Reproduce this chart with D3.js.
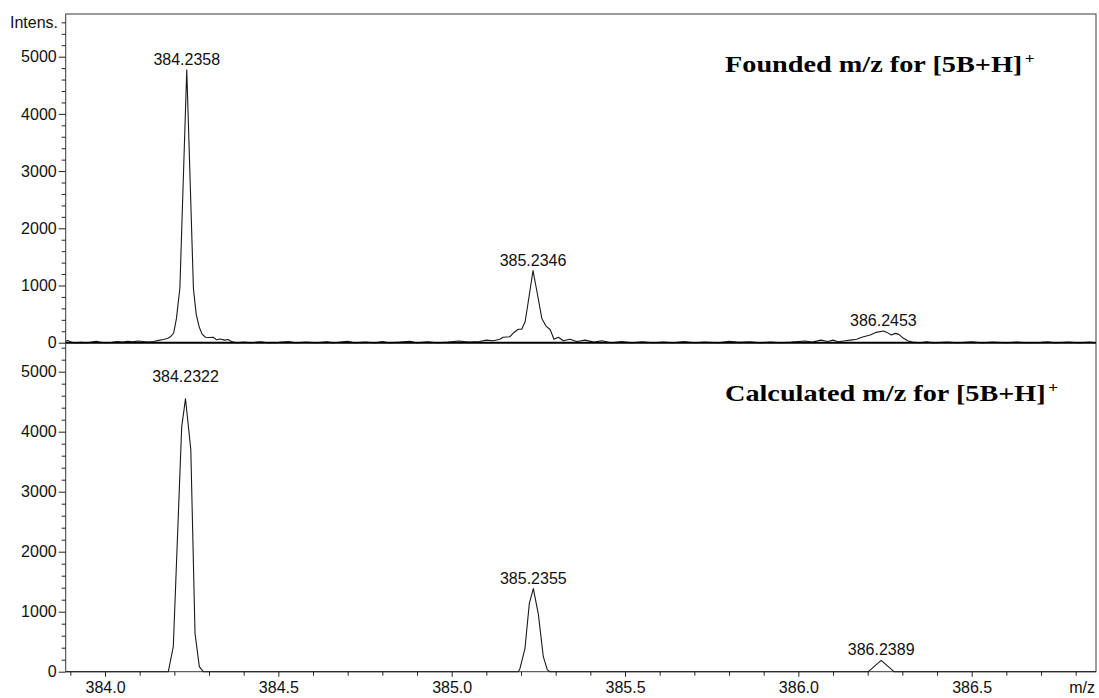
<!DOCTYPE html>
<html>
<head>
<meta charset="utf-8">
<script src="https://cdn.jsdelivr.net/npm/d3@7"></script>
<style>
  html, body { margin: 0; padding: 0; background: #fff; }
  svg { display: block; }
  .tick text { font-family: "Liberation Sans", Arial, sans-serif; font-size: 16px; fill: #111; }
  .tick line { stroke: #222; }
</style>
</head>
<body>
<svg id="chart" width="1099" height="698"></svg>
<script>
// Measured profile spectrum of [5B+H]+ (m/z, intensity)
const foundMz = [
  383.887, 383.893, 383.899, 383.91, 383.93, 383.95, 383.965, 383.975, 383.985, 384.00,
  384.02, 384.035, 384.05, 384.065, 384.08, 384.095, 384.11, 384.125, 384.14, 384.155,
  384.168, 384.18, 384.19, 384.198, 384.206, 384.216, 384.2358, 384.255, 384.263, 384.272,
  384.28, 384.29, 384.30, 384.312, 384.322, 384.332, 384.345, 384.355, 384.365, 384.38,
  384.40, 384.42, 384.45, 384.47, 384.50, 384.53, 384.55, 384.58, 384.61, 384.64,
  384.66, 384.70, 384.72, 384.75, 384.78, 384.80, 384.82, 384.85, 384.88, 384.90,
  384.93, 384.96, 384.99, 385.02, 385.05, 385.08, 385.10, 385.12, 385.139, 385.148,
  385.168, 385.177, 385.192, 385.202, 385.212, 385.221, 385.2346, 385.247, 385.260, 385.272,
  385.284, 385.295, 385.308, 385.322, 385.341, 385.361, 385.385, 385.41, 385.433, 385.46,
  385.49, 385.52, 385.55, 385.58, 385.61, 385.64, 385.67, 385.70, 385.73, 385.77,
  385.80, 385.83, 385.86, 385.89, 385.92, 385.95, 385.98, 386.02, 386.04, 386.065,
  386.085, 386.10, 386.115, 386.13, 386.15, 386.168, 386.183, 386.207, 386.225, 386.2453,
  386.258, 386.268, 386.28, 386.29, 386.303, 386.317, 386.33, 386.35, 386.37, 386.39,
  386.43, 386.46, 386.50, 386.53, 386.56, 386.60, 386.63, 386.66, 386.70, 386.72,
  386.74, 386.78, 386.81, 386.84, 386.858
];
const foundIntensity = [
  25, 40, 15, 0, 5, 0, 15, 25, 10, 0,
  5, 20, 10, 25, 15, 30, 20, 10, 20, 40,
  55, 75, 110, 170, 420, 960, 4770, 950, 500, 270,
  150, 95, 90, 95, 50, 65, 45, 55, 20, 0,
  10, 0, 15, 0, 5, 20, 0, 10, 0, 15,
  0, 25, 0, 10, 0, 20, 0, 10, 25, 0,
  15, 0, 10, 30, 10, 20, 45, 35, 60, 95,
  105, 165, 235, 235, 370, 720, 1260, 860, 425, 290,
  230, 60, 95, 35, 60, 20, 45, 10, 35, 0,
  20, 0, 15, 0, 10, 0, 20, 0, 10, 0,
  25, 5, 15, 0, 10, 0, 10, 30, 10, 45,
  20, 45, 15, 30, 45, 60, 94, 135, 181, 205,
  172, 135, 163, 146, 76, 30, 10, 0, 15, 0,
  10, 0, 15, 0, 10, 0, 10, 0, 5, 15,
  0, 10, 0, 10, 0
];

// Calculated isotope pattern of [5B+H]+ (m/z, intensity)
const calcMz = [
  383.887, 384.1826, 384.197, 384.2212, 384.2322, 384.2475, 384.2596, 384.272, 384.2836,
  385.1922, 385.197, 385.2115, 385.224, 385.2355, 385.250, 385.2643, 385.276, 385.2836,
  386.2019, 386.2389, 386.276, 386.858
];
const calcIntensity = [
  0, 0, 420, 4080, 4550, 3700, 640, 85, 0,
  0, 55, 390, 1140, 1385, 960, 250, 30, 0,
  0, 190, 0, 0
];

const foundPeakLabels = ["384.2358", "385.2346", "386.2453"];
const calcPeakLabels = ["384.2322", "385.2355", "386.2389"];
const intensityTicks = [0, 1000, 2000, 3000, 4000, 5000];
const mzTicks = [384.0, 384.5, 385.0, 385.5, 386.0, 386.5];
const panelTitles = ["Founded m/z for [5B+H]", "Calculated m/z for [5B+H]"];

// ---- layout ----
const plotL = 65.7, plotR = 1096, plotT = 14, plotMid = 342.7, plotB = 671.7;
const svg = d3.select("#chart");
const sans = '"Liberation Sans", Arial, sans-serif';
const serif = '"Liberation Serif", "Times New Roman", serif';

const x = d3.scaleLinear().domain([383.8866, 386.8586]).range([plotL, plotR]);
const yTop = d3.scaleLinear().domain([0, 5746]).range([plotMid, plotT]);
const yBot = d3.scaleLinear().domain([0, 5483]).range([plotB, plotMid]);

// frame
svg.append("rect")
  .attr("x", plotL).attr("y", plotT)
  .attr("width", plotR - plotL).attr("height", plotB - plotT)
  .attr("fill", "none").attr("stroke", "#3a3a3a").attr("stroke-width", 1);

function yAxes(y, maxVal) {
  const g = svg.append("g").attr("transform", `translate(${plotL},0)`);
  g.call(d3.axisLeft(y).tickValues(intensityTicks).tickSize(7).tickPadding(2).tickFormat(d3.format("d")));
  g.select(".domain").remove();
  const minor = d3.range(200, maxVal, 200).filter(v => v % 1000 !== 0);
  const gm = svg.append("g").attr("transform", `translate(${plotL},0)`);
  gm.call(d3.axisLeft(y).tickValues(minor).tickSize(4).tickFormat(""));
  gm.select(".domain").remove();
}
yAxes(yTop, yTop.domain()[1]);
yAxes(yBot, yBot.domain()[1]);

// x axis along the bottom
const gx = svg.append("g").attr("transform", `translate(0,${plotB})`);
gx.call(d3.axisBottom(x).tickValues(mzTicks).tickSize(5).tickPadding(5).tickFormat(d3.format(".1f")));
gx.select(".domain").remove();
const minorMz = d3.range(3839, 3869).map(v => v / 10).filter(v => !mzTicks.some(t => Math.abs(t - v) < 1e-6));
const gxm = svg.append("g").attr("transform", `translate(0,${plotB})`);
gxm.call(d3.axisBottom(x).tickValues(minorMz).tickSize(4).tickFormat(""));
gxm.select(".domain").remove();

// spectra
function spectrum(mz, inten, y) {
  const pts = mz.map((m, i) => [m, inten[i]]);
  svg.append("path")
    .datum(pts)
    .attr("fill", "none")
    .attr("stroke", "#1a1a1a")
    .attr("stroke-width", 1.1)
    .attr("stroke-linejoin", "round")
    .attr("d", d3.line().x(d => x(d[0])).y(d => y(d[1])));
  return pts;
}
const foundPts = spectrum(foundMz, foundIntensity, yTop);
const calcPts = spectrum(calcMz, calcIntensity, yBot);

// baseline dividing the two panels
svg.append("line")
  .attr("x1", plotL).attr("x2", plotR).attr("y1", plotMid).attr("y2", plotMid)
  .attr("stroke", "#000").attr("stroke-width", 2);

// peak annotations
function peakLabels(labels, pts, y, lifts) {
  labels.forEach((lab, i) => {
    const m = +lab;
    const near = pts.filter(p => Math.abs(p[0] - m) < 0.03);
    const apex = d3.max(near, p => p[1]);
    svg.append("text")
      .attr("x", x(m))
      .attr("y", y(apex) - 5 - (lifts[i] || 0))
      .attr("text-anchor", "middle")
      .attr("font-family", sans)
      .attr("font-size", 16)
      .attr("fill", "#111")
      .text(lab);
  });
}
peakLabels(foundPeakLabels, foundPts, yTop, [0, 0, 0]);
peakLabels(calcPeakLabels, calcPts, yBot, [12, 0, 0]);

// axis captions
svg.append("text").attr("x", 58).attr("y", 28).attr("text-anchor", "end")
  .attr("font-family", sans).attr("font-size", 16).attr("fill", "#111").text("Intens.");
svg.append("text").attr("x", 1095).attr("y", 693).attr("text-anchor", "end")
  .attr("font-family", sans).attr("font-size", 16).attr("fill", "#111").text("m/z");

// panel titles (bold serif, slightly widened)
const titleBase = [72, 401];
const titleX = 725;
const calcWidth = 321;
const probe = svg.append("text").attr("font-family", serif).attr("font-weight", "bold")
  .attr("font-size", 23).text(panelTitles[1]);
const sx = calcWidth / probe.node().getComputedTextLength();
probe.remove();
panelTitles.forEach((t, i) => {
  const g = svg.append("g").attr("transform", `translate(${titleX},${titleBase[i]}) scale(${sx},1)`);
  const txt = g.append("text").attr("font-family", serif).attr("font-weight", "bold")
    .attr("font-size", 23).attr("fill", "#000").text(t);
  const w = txt.node().getComputedTextLength();
  g.append("text").attr("x", w + 2).attr("y", -9)
    .attr("font-family", serif).attr("font-weight", "bold")
    .attr("font-size", 14).attr("fill", "#000").text("+");
});
</script>
</body>
</html>
